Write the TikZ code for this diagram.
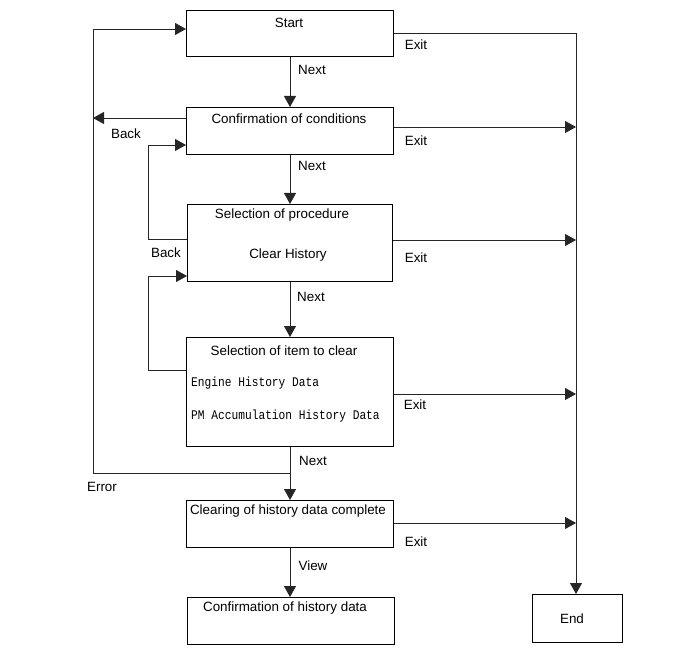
\documentclass[tikz,border=0pt]{standalone}
\usepackage{fontspec}
\setmainfont{Liberation Sans}
\newfontfamily\monofnt[FakeStretch=0.85]{Liberation Mono}
\usetikzlibrary{arrows.meta}
\begin{document}
\begin{tikzpicture}[x=1pt,y=-1pt,
  box/.style={draw=black,line width=0.9pt,minimum width=207pt,inner sep=0pt,anchor=north west},
  txt/.style={inner sep=0pt,font=\fontsize{13.4}{15}\selectfont},
  mono/.style={inner sep=0pt,anchor=west,font=\monofnt\fontsize{13.2}{15}\selectfont},
  lab/.style={inner sep=0pt,font=\fontsize{13.4}{15}\selectfont},
  ln/.style={line width=0.9pt,draw=black!85},
  arr/.style={ln,-{Triangle[length=11pt,width=12pt]}}]
\useasboundingbox (0,0) rectangle (690,660);

% boxes
\node[box,minimum height=46pt] (start) at (186,10) {};
\node[box,minimum height=47pt] (conf) at (186,107) {};
\node[box,minimum width=205pt,minimum height=77pt] (proc) at (187,204) {};
\node[box,minimum height=109pt] (item) at (186,337) {};
\node[box,minimum height=47pt] (clr) at (186,500) {};
\node[box,minimum height=47pt] (view) at (187,597) {};
\node[box,minimum width=90pt,minimum height=48pt] (end) at (532,594) {};

% box texts
\node[txt] (startT) at (289,23) {Start};
\node[txt] (confT) at (289,119) {Confirmation of conditions};
\node[txt] (procT) at (282,215) {Selection of procedure};
\node[txt] (procT2) at (288,255) {Clear History};
\node[txt] (itemT) at (284,351) {Selection of item to clear};
\node[mono] (itemA) at (191,383) {Engine History Data};
\node[mono] (itemB) at (191,416) {PM Accumulation History Data};
\node[txt] (clrT) at (288,511) {Clearing of history data complete};
\node[txt] (viewT) at (285,608) {Confirmation of history data};
\node[txt] (endT) at (572,619) {End};

% coordinates
\coordinate (rtop) at (576,33);
\coordinate (ltop) at (93,29);
\coordinate (lback) at (93,118);
\coordinate (lbot) at (93,473);
\coordinate (err) at (290,473);
\coordinate (l2top) at (148,145);
\coordinate (l2bot) at (148,239);
\coordinate (l3top) at (148,276);
\coordinate (l3bot) at (148,370);

% Next / View arrows
\draw[arr] (start.south -| err) -- (conf.north -| err);
\draw[arr] (conf.south -| err) -- (proc.north -| err);
\draw[arr] (proc.south -| err) -- (item.north -| err);
\draw[arr] (item.south -| err) -- (clr.north -| err);
\draw[arr] (clr.south -| err) -- (view.north -| err);

% Exit lines
\draw[ln] (start.east |- rtop) -- (rtop);
\draw[arr] (rtop) -- (end.north -| rtop);
\draw[arr] (conf.east |- 0,127) -- (576,127);
\draw[arr] (proc.east |- 0,240) -- (576,240);
\draw[arr] (item.east |- 0,394) -- (576,394);
\draw[arr] (clr.east |- 0,523) -- (576,523);

% Back / Error loops
\draw[arr] (conf.west |- lback) -- (lback);
\draw[arr] (err) -- (lbot) -- (ltop) -- (start.west |- ltop);
\draw[arr] (proc.west |- l2bot) -- (l2bot) -- (l2top) -- (conf.west |- l2top);
\draw[arr] (item.west |- l3bot) -- (l3bot) -- (l3top) -- (proc.west |- l3top);

% labels
\node[lab] (n1) at (312,70) {Next};
\node[lab] (n2) at (312,166) {Next};
\node[lab] (n3) at (311,297) {Next};
\node[lab] (n4) at (313,461) {Next};
\node[lab] (v1) at (313,566) {View};
\node[lab] (e1) at (416,45) {Exit};
\node[lab] (e2) at (416,141) {Exit};
\node[lab] (e3) at (416,258) {Exit};
\node[lab] (e4) at (415,405) {Exit};
\node[lab] (e5) at (416,542) {Exit};
\node[lab] (b1) at (126,134) {Back};
\node[lab] (b2) at (166,253) {Back};
\node[lab] (er) at (102,487) {Error};
\end{tikzpicture}
\end{document}
